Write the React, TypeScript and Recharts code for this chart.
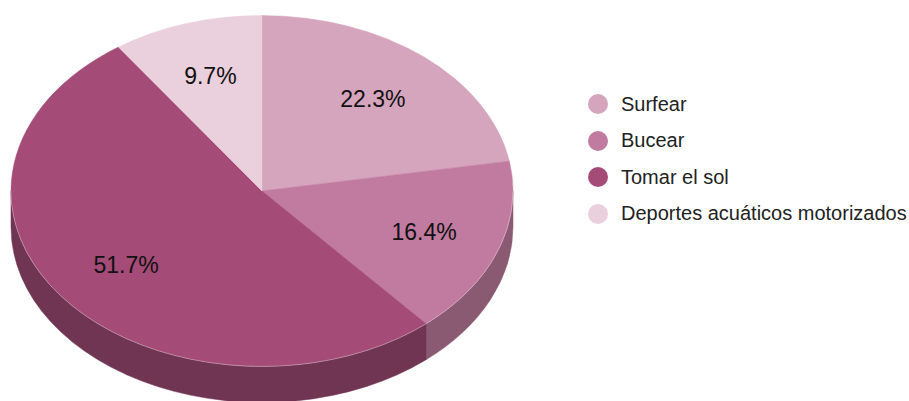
import React from 'react';
import { PieChart, Pie, Cell, Legend } from 'recharts';

const categories = ['Surfear', 'Bucear', 'Tomar el sol', 'Deportes acuáticos motorizados'];
const shares = [22.3, 16.4, 51.7, 9.7];

const topColors = ['#d5a4bd', '#c17aa0', '#a44c77', '#eacfdc'];
const sideColors = ['#9a7086', '#8a5a72', '#703552', '#a8909c'];

const data = categories.map((name, i) => ({ name, value: shares[i] }));

const TILT = 0.699;
const DEPTH = 36;
const RAD = Math.PI / 180;
const FONT = '"Liberation Sans", Arial, Helvetica, sans-serif';

function pt(cx: number, cy: number, r: number, deg: number, dy = 0): string {
  const x = cx + r * Math.cos(deg * RAD);
  const y = cy - r * TILT * Math.sin(deg * RAD) + dy;
  return `${x.toFixed(2)},${y.toFixed(2)}`;
}

function Slice3D(props: any) {
  const { cx, cy, outerRadius, startAngle, endAngle, name } = props;
  const r = outerRadius;
  const ry = r * TILT;
  const idx = Math.max(0, categories.indexOf(name));
  const fill = topColors[idx];
  const side = sideColors[idx];
  const cw = startAngle > endAngle;
  const large = Math.abs(startAngle - endAngle) > 180 ? 1 : 0;
  const top = `M${cx},${cy} L${pt(cx, cy, r, startAngle)} A${r},${ry} 0 ${large} ${cw ? 1 : 0} ${pt(cx, cy, r, endAngle)} Z`;

  const hi = Math.max(startAngle, endAngle);
  const lo = Math.min(startAngle, endAngle);
  const walls: string[] = [];
  const edges: string[] = [];
  for (let k = -2; k <= 2; k++) {
    const fHi = 360 * k;
    const fLo = -180 + 360 * k;
    const a = Math.min(hi, fHi);
    const b = Math.max(lo, fLo);
    if (a - b > 0.01) {
      const lg = a - b > 180 ? 1 : 0;
      walls.push(
        `M${pt(cx, cy, r, a)} A${r},${ry} 0 ${lg} 1 ${pt(cx, cy, r, b)} L${pt(cx, cy, r, b, DEPTH)} A${r},${ry} 0 ${lg} 0 ${pt(cx, cy, r, a, DEPTH)} Z`
      );
      edges.push(`M${pt(cx, cy, r, a)} A${r},${ry} 0 ${lg} 1 ${pt(cx, cy, r, b)}`);
    }
  }

  return (
    <g>
      {walls.map((d, i) => (
        <path key={'w' + i} d={d} fill={side} stroke={side} strokeWidth={0.5} />
      ))}
      <path d={top} fill={fill} stroke={fill} strokeWidth={0.5} />
      {edges.map((d, i) => (
        <path key={'e' + i} d={d} fill="none" stroke="rgba(255,255,255,0.3)" strokeWidth={1} />
      ))}
    </g>
  );
}

function renderLabel(props: any) {
  const { cx, cy, midAngle, outerRadius, value } = props;
  const rr = outerRadius * 0.686;
  const x = cx + rr * Math.cos(midAngle * RAD);
  const y = cy - rr * TILT * Math.sin(midAngle * RAD);
  return (
    <text
      x={x}
      y={y}
      textAnchor="middle"
      dominantBaseline="central"
      fill="#111"
      fontFamily={FONT}
      fontSize={23}
    >
      {`${Number(value).toFixed(1)}%`}
    </text>
  );
}

function renderLegend() {
  return (
    <div style={{ fontFamily: FONT, fontSize: 20, color: '#222' }}>
      {categories.map((name, i) => (
        <div key={name} style={{ display: 'flex', alignItems: 'center', height: 36.5 }}>
          <span
            style={{
              display: 'inline-block',
              width: 20,
              height: 20,
              borderRadius: 10,
              background: topColors[i],
              marginRight: 13,
              flexShrink: 0,
            }}
          />
          <span style={{ whiteSpace: 'nowrap' }}>{name}</span>
        </div>
      ))}
    </div>
  );
}

export default function App() {
  return (
    <div style={{ position: 'absolute', left: 0, top: 0, width: 909, height: 401, background: '#fff' }}>
      <PieChart width={909} height={401} margin={{ top: 0, right: 0, bottom: 0, left: 0 }}>
        <Pie
          data={data}
          dataKey="value"
          nameKey="name"
          cx={262}
          cy={191}
          outerRadius={251}
          startAngle={90}
          endAngle={-270}
          stroke="none"
          isAnimationActive={false}
          shape={Slice3D}
          label={renderLabel}
          labelLine={false}
        >
          {data.map((d, i) => (
            <Cell key={d.name} fill={topColors[i]} />
          ))}
        </Pie>
        <Legend
          layout="vertical"
          align="right"
          verticalAlign="top"
          content={renderLegend}
          wrapperStyle={{ position: 'absolute', left: 588, top: 86, width: 320, right: 'auto' }}
        />
      </PieChart>
    </div>
  );
}
